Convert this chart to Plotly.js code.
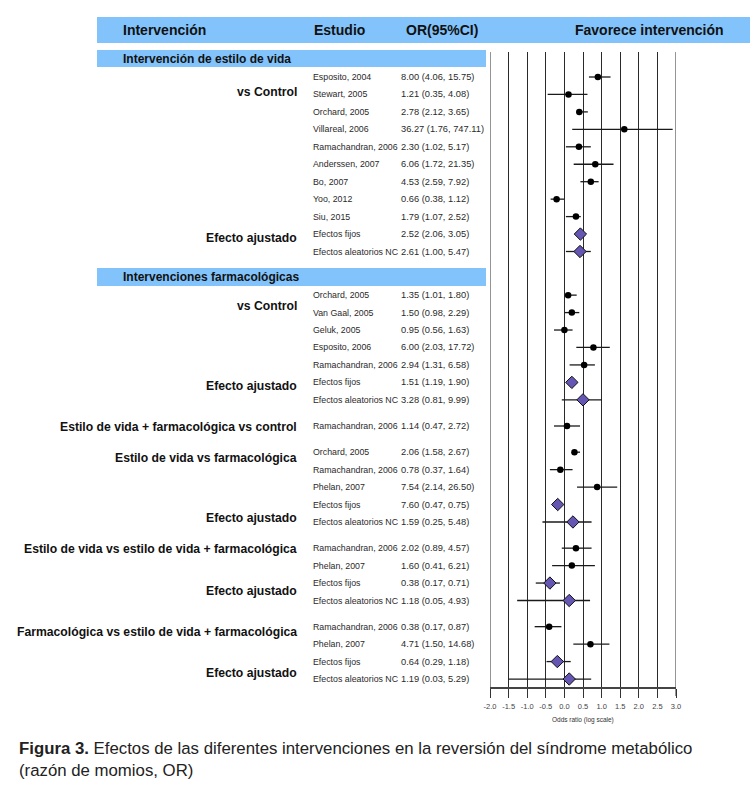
<!DOCTYPE html>
<html>
<head>
<meta charset="utf-8">
<script src="https://cdn.plot.ly/plotly-3.0.1.min.js"></script>
<style>
html,body{margin:0;padding:0;background:#fff;}
#chart{width:750px;height:787px;}
</style>
</head>
<body>
<div id="chart"></div>
<script>
// ---------------- DATA ----------------
const headerLabels = ["Intervención", "Estudio", "OR(95%CI)", "Favorece intervención"];
const sectionTitles = ["Intervención de estilo de vida", "Intervenciones farmacológicas"];
const groupLabels = [
  "vs Control",
  "vs Control",
  "Estilo de vida + farmacológica vs control",
  "Estilo de vida vs farmacológica",
  "Estilo de vida vs estilo de vida + farmacológica",
  "Farmacológica vs estilo de vida + farmacológica"
];
const adjustedLabel = "Efecto ajustado";

// group index of each row
const rowGroup = [0,0,0,0,0,0,0,0,0,0,0, 1,1,1,1,1,1,1, 2, 3,3,3,3,3, 4,4,4,4, 5,5,5,5];

const studyLabels = [
  "Esposito, 2004","Stewart, 2005","Orchard, 2005","Villareal, 2006","Ramachandran, 2006","Anderssen, 2007","Bo, 2007","Yoo, 2012","Siu, 2015","Efectos fijos","Efectos aleatorios NC",
  "Orchard, 2005","Van Gaal, 2005","Geluk, 2005","Esposito, 2006","Ramachandran, 2006","Efectos fijos","Efectos aleatorios NC",
  "Ramachandran, 2006",
  "Orchard, 2005","Ramachandran, 2006","Phelan, 2007","Efectos fijos","Efectos aleatorios NC",
  "Ramachandran, 2006","Phelan, 2007","Efectos fijos","Efectos aleatorios NC",
  "Ramachandran, 2006","Phelan, 2007","Efectos fijos","Efectos aleatorios NC"
];

const orText = [
  "8.00 (4.06, 15.75)","1.21 (0.35, 4.08)","2.78 (2.12, 3.65)","36.27 (1.76, 747.11)","2.30 (1.02, 5.17)","6.06 (1.72, 21.35)","4.53 (2.59, 7.92)","0.66 (0.38, 1.12)","1.79 (1.07, 2.52)","2.52 (2.06, 3.05)","2.61 (1.00, 5.47)",
  "1.35 (1.01, 1.80)","1.50 (0.98, 2.29)","0.95 (0.56, 1.63)","6.00 (2.03, 17.72)","2.94 (1.31, 6.58)","1.51 (1.19, 1.90)","3.28 (0.81, 9.99)",
  "1.14 (0.47, 2.72)",
  "2.06 (1.58, 2.67)","0.78 (0.37, 1.64)","7.54 (2.14, 26.50)","7.60 (0.47, 0.75)","1.59 (0.25, 5.48)",
  "2.02 (0.89, 4.57)","1.60 (0.41, 6.21)","0.38 (0.17, 0.71)","1.18 (0.05, 4.93)",
  "0.38 (0.17, 0.87)","4.71 (1.50, 14.68)","0.64 (0.29, 1.18)","1.19 (0.03, 5.29)"
];

// plotted values (log scale)
const logOR = [0.90, 0.11, 0.40, 1.61, 0.39, 0.83, 0.71, -0.21, 0.31, 0.43, 0.42,
  0.10, 0.20, 0.00, 0.78, 0.53, 0.20, 0.50,
  0.07,
  0.27, -0.11, 0.88, -0.18, 0.23,
  0.31, 0.20, -0.39, 0.13,
  -0.41, 0.70, -0.19, 0.13];
const logLo = [0.66, -0.45, 0.33, 0.21, 0.04, 0.25, 0.43, -0.37, 0.04, 0.31, 0.04,
  0.06, 0.01, -0.28, 0.32, 0.14, 0.08, -0.07,
  -0.28,
  0.22, -0.39, 0.34, -0.32, -0.59,
  -0.07, -0.33, -0.77, -1.27,
  -0.80, 0.24, -0.48, -1.50];
const logHi = [1.24, 0.62, 0.63, 2.91, 0.71, 1.32, 0.92, -0.01, 0.44, 0.48, 0.71,
  0.33, 0.40, 0.22, 1.22, 0.82, 0.28, 1.01,
  0.42,
  0.42, 0.22, 1.42, -0.13, 0.73,
  0.73, 0.82, -0.12, 0.69,
  -0.08, 1.21, 0.17, 0.72];

const tickVals = [-2.0,-1.5,-1.0,-0.5,0.0,0.5,1.0,1.5,2.0,2.5,3.0];
const tickText = ["-2.0","-1.5","-1.0","-0.5","0.0","0.5","1.0","1.5","2.0","2.5","3.0"];
const xAxisTitle = "Odds ratio (log scale)";
const captionBold = "Figura 3.";
const captionLine1 = " Efectos de las diferentes intervenciones en la reversión del síndrome metabólico";
const captionLine2 = "(razón de momios, OR)";

// ---------------- LAYOUT HELPERS ----------------
const W = 750, H = 787;
const FONT = "Liberation Sans, Arial, Helvetica, sans-serif";
const px = x => x / W;
const py = y => 1 - y / H;
const ROW0 = 77, STEP = 17.45;          // pixel of first row, pixel per row
const PLOT_TOP = 52, PLOT_BOT = 687;
const GRID = "#2a2a2a";

// row position in row units (with gaps between groups)
const rowY = rowGroup.map((g, i) => i + 0.5 * g + (g >= 1 ? 1 : 0));
const pooled = studyLabels.map(s => s.startsWith("Efectos"));

function pick(arr, want) { return arr.filter((_, i) => pooled[i] === want); }

const traces = [false, true].map(isPool => {
  const xs = pick(logOR, isPool), lo = pick(logLo, isPool), hi = pick(logHi, isPool);
  return {
    type: "scatter", mode: "markers",
    x: xs, y: pick(rowY, isPool),
    error_x: {
      type: "data", symmetric: false,
      array: xs.map((v, i) => hi[i] - v),
      arrayminus: xs.map((v, i) => v - lo[i]),
      color: "#1a1a1a", thickness: 1.3, width: 0
    },
    marker: isPool
      ? {symbol: "diamond", size: 9.5, color: "#6556b4", line: {color: "#111", width: 1}}
      : {symbol: "circle", size: 6.5, color: "#000"},
    hoverinfo: "skip", showlegend: false, cliponaxis: false
  };
});

const annotations = [];
const base = {showarrow: false, xref: "paper", yref: "paper"};

// header
const headerX = [121, 312, 404, 573];
headerLabels.forEach((t, i) => annotations.push(Object.assign({}, base, {
  text: "<b>" + t + "</b>", x: px(headerX[i]), y: py(30), xanchor: "left", yanchor: "middle",
  font: {family: FONT, size: 14, color: "#111"}
})));
// section titles
const sectionY = [58.5, 277];
sectionTitles.forEach((t, i) => annotations.push(Object.assign({}, base, {
  text: "<b>" + t + "</b>", x: px(121), y: py(sectionY[i]), xanchor: "left", yanchor: "middle",
  font: {family: FONT, size: 12, color: "#111"}
})));
// group labels
const groupLabelY = [92, 306, 427, 458.5, 549, 632];
const adjustedY = [238, 386, null, 518, 591, 673];
groupLabels.forEach((t, i) => {
  annotations.push(Object.assign({}, base, {
    text: "<b>" + t + "</b>", x: px(299), y: py(groupLabelY[i]), xanchor: "right", yanchor: "middle",
    font: {family: FONT, size: 12.2, color: "#111"}
  }));
  if (adjustedY[i] !== null) annotations.push(Object.assign({}, base, {
    text: "<b>" + adjustedLabel + "</b>", x: px(299), y: py(adjustedY[i]), xanchor: "right", yanchor: "middle",
    font: {family: FONT, size: 12.2, color: "#111"}
  }));
});
// study names and OR text
studyLabels.forEach((s, i) => {
  annotations.push({showarrow: false, xref: "paper", yref: "y", x: px(311), y: rowY[i],
    text: s, xanchor: "left", yanchor: "middle", font: {family: FONT, size: 8.8, color: "#2a2a2a"}});
  annotations.push({showarrow: false, xref: "paper", yref: "y", x: px(399), y: rowY[i],
    text: orText[i], xanchor: "left", yanchor: "middle", font: {family: FONT, size: 9.3, color: "#2a2a2a"}});
});
// axis title
annotations.push(Object.assign({}, base, {
  text: xAxisTitle, x: px(583), y: py(720), xanchor: "center", yanchor: "middle",
  font: {family: FONT, size: 6.5, color: "#333"}
}));
// caption
annotations.push(Object.assign({}, base, {
  text: "<b>" + captionBold + "</b>" + captionLine1, x: px(17), y: py(748), xanchor: "left", yanchor: "middle",
  font: {family: FONT, size: 16.8, color: "#222"}
}));
annotations.push(Object.assign({}, base, {
  text: captionLine2, x: px(17), y: py(770), xanchor: "left", yanchor: "middle",
  font: {family: FONT, size: 16.8, color: "#222"}
}));

const BAND = "#82c3fb";
const shapes = [
  {type: "rect", xref: "paper", yref: "paper", x0: px(97), x1: px(750), y0: py(43), y1: py(17), fillcolor: BAND, line: {width: 0}, layer: "below"},
  {type: "rect", xref: "paper", yref: "paper", x0: px(97), x1: px(486), y0: py(67), y1: py(50), fillcolor: BAND, line: {width: 0}, layer: "below"},
  {type: "rect", xref: "paper", yref: "paper", x0: px(97), x1: px(486), y0: py(286), y1: py(268), fillcolor: BAND, line: {width: 0}, layer: "below"}
];
// edge gridlines (Plotly omits gridlines at the range ends)
[tickVals[0], tickVals[tickVals.length - 1]].forEach(v => shapes.push({
  type: "line", xref: "x", yref: "paper", x0: v, x1: v, y0: py(PLOT_BOT + 9), y1: py(PLOT_TOP),
  line: {color: GRID, width: 1}, layer: "below"
}));

const layout = {
  width: W, height: H,
  margin: {l: 0, r: 0, t: 0, b: 0, pad: 0},
  paper_bgcolor: "#fff", plot_bgcolor: "rgba(0,0,0,0)",
  showlegend: false,
  font: {family: FONT},
  xaxis: {
    domain: [px(490), px(676)], range: [-2, 3],
    tickvals: tickVals, ticktext: tickText,
    showgrid: true, gridcolor: GRID, gridwidth: 1,
    zeroline: false, showline: true, linecolor: "#444", linewidth: 1.5,
    ticks: "outside", ticklen: 9, tickwidth: 1, tickcolor: "#333",
    ticklabelstandoff: 2,
    tickfont: {family: FONT, size: 7.5, color: "#444"},
    fixedrange: true
  },
  yaxis: {
    domain: [py(PLOT_BOT), py(PLOT_TOP)],
    range: [(PLOT_BOT - ROW0) / STEP, (PLOT_TOP - ROW0) / STEP],
    showgrid: false, zeroline: false, showline: false, showticklabels: false, ticks: "",
    fixedrange: true
  },
  shapes: shapes,
  annotations: annotations
};

Plotly.newPlot("chart", traces, layout, {staticPlot: true, displayModeBar: false});
</script>
</body>
</html>
